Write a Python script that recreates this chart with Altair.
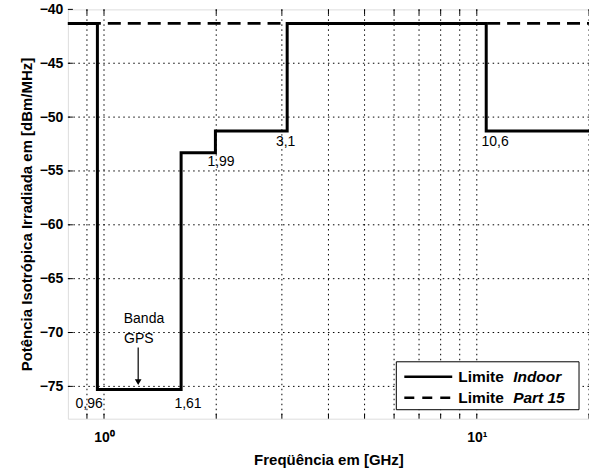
import altair as alt
import pandas as pd

# ---- data ----
freq_indoor = [0.8, 0.96, 1.61, 1.99, 3.1, 10.6, 20.0]
eirp_indoor = [-41.3, -75.3, -53.3, -51.3, -41.3, -51.3, -51.3]
freq_part15 = [0.8, 20.0]
eirp_part15 = [-41.3, -41.3]

ann_text = ["0,96", "1,61", "1,99", "3,1", "10,6"]
ann_x = [0.912, 1.68, 2.06, 3.07, 11.2]
ann_y = [-76.6, -76.6, -54.2, -52.3, -52.3]

gps_text = ["Banda", "GPS"]
gps_x = [1.28, 1.24]
gps_y = [-68.7, -70.6]
arrow_x = [1.235]
arrow_y0 = [-71.4]
arrow_y1 = [-74.6]

x_grid = [0.9, 1, 2, 3, 4, 5, 6, 7, 8, 9, 10, 20]
x_major = [1, 10]
y_ticks = [-75, -70, -65, -60, -55, -50, -45, -40]

W, H = 522, 410
FONT = "Liberation Sans"

xs = alt.Scale(type="log", domain=[0.8, 20], nice=False)
ys = alt.Scale(domain=[-78, -40], nice=False)

df_in = pd.DataFrame({"f": freq_indoor, "p": eirp_indoor})
df_p15 = pd.DataFrame({"f": freq_part15, "p": eirp_part15})
df_ann = pd.DataFrame({"f": ann_x, "p": ann_y, "t": ann_text})
df_gps = pd.DataFrame({"f": gps_x, "p": gps_y, "t": gps_text})
df_arr = pd.DataFrame({"f": arrow_x, "p0": arrow_y0, "p1": arrow_y1})
df_xg = pd.DataFrame({"f": x_grid, "major": [v in x_major for v in x_grid]})
df_yg = pd.DataFrame({"p": y_ticks})

base = alt.Chart(df_in)

xaxis = alt.Axis(values=x_major, labelExpr="datum.value == 1 ? '10⁰' : '10¹'",
                 grid=False, ticks=False, domain=False, labelFont=FONT,
                 labelFontSize=14, labelFontWeight="bold", labelPadding=12,
                 title="Freqüência em [GHz]", titleFont=FONT, titleFontSize=15,
                 titleFontWeight="bold", titlePadding=8, labelColor="black",
                 titleColor="black")
yaxis = alt.Axis(values=y_ticks, grid=False, ticks=False, domain=False,
                 labelFont=FONT, labelFontSize=14, labelFontWeight="bold",
                 labelPadding=5, labelColor="black",
                 title="Potência Isotrópica Irradiada em [dBm/MHz]",
                 titleFont=FONT, titleFontSize=15, titleFontWeight="bold",
                 titleColor="black", titlePadding=5)

# grid lines
vgrid = alt.Chart(df_xg).mark_rule(color="black", strokeWidth=1, strokeDash=[1.5, 3.5]).encode(
    x=alt.X("f:Q", scale=xs, axis=xaxis))
hgrid = alt.Chart(df_yg).transform_filter("datum.p < -40").mark_rule(
    color="black", strokeWidth=1, strokeDash=[1.5, 3.5]).encode(
    y=alt.Y("p:Q", scale=ys, axis=yaxis))

# inward ticks
tick_top = alt.Chart(df_xg).mark_rule(color="black", strokeWidth=1).encode(
    x=alt.X("f:Q", scale=xs), y=alt.value(0),
    y2=alt.value(5))
tick_bot = alt.Chart(df_xg).mark_rule(color="black", strokeWidth=1).encode(
    x=alt.X("f:Q", scale=xs), y=alt.value(H), y2=alt.value(H - 5))
tick_left = alt.Chart(df_yg).mark_rule(color="black", strokeWidth=1).encode(
    y=alt.Y("p:Q", scale=ys), x=alt.value(0), x2=alt.value(5))

line_p15 = alt.Chart(df_p15).mark_line(color="black", strokeWidth=2.6, strokeDash=[13, 7]).encode(
    x=alt.X("f:Q", scale=xs), y=alt.Y("p:Q", scale=ys))
line_in = base.mark_line(color="black", strokeWidth=3, interpolate="step-after").encode(
    x=alt.X("f:Q", scale=xs), y=alt.Y("p:Q", scale=ys))

ann = alt.Chart(df_ann).mark_text(font=FONT, fontSize=14, color="black").encode(
    x=alt.X("f:Q", scale=xs), y=alt.Y("p:Q", scale=ys), text="t:N")
gps = alt.Chart(df_gps).mark_text(font=FONT, fontSize=14, color="black").encode(
    x=alt.X("f:Q", scale=xs), y=alt.Y("p:Q", scale=ys), text="t:N")
arrow = alt.Chart(df_arr).mark_rule(color="black", strokeWidth=1.2).encode(
    x=alt.X("f:Q", scale=xs), y=alt.Y("p0:Q", scale=ys), y2="p1:Q")
head = alt.Chart(df_arr).mark_point(shape="triangle-down", filled=True, color="black",
                                     size=45, opacity=1).encode(
    x=alt.X("f:Q", scale=xs), y=alt.Y("p1:Q", scale=ys))

# legend (drawn manually to allow italic words)
one = df_yg.head(1)
LFS = 15.5
leg_box = alt.Chart(one).mark_rect(fill="white", stroke="black", strokeWidth=1).encode(
    x=alt.value(329), x2=alt.value(512), y=alt.value(353), y2=alt.value(401))
leg_l1 = alt.Chart(one).mark_rule(color="black", strokeWidth=2.6).encode(
    x=alt.value(337), x2=alt.value(385), y=alt.value(368))
leg_l2 = alt.Chart(one).mark_rule(color="black", strokeWidth=2.6, strokeDash=[10, 8]).encode(
    x=alt.value(337), x2=alt.value(387), y=alt.value(389))
leg_t1a = alt.Chart(one).mark_text(font=FONT, fontSize=LFS, fontWeight="bold", align="left",
                                   baseline="middle", color="black", text="Limite").encode(
    x=alt.value(391), y=alt.value(368))
leg_t1b = alt.Chart(one).mark_text(font=FONT, fontSize=LFS, fontWeight="bold", fontStyle="italic",
                                   align="left", baseline="middle", color="black", text="Indoor").encode(
    x=alt.value(446), y=alt.value(368))
leg_t2a = alt.Chart(one).mark_text(font=FONT, fontSize=LFS, fontWeight="bold", align="left",
                                   baseline="middle", color="black", text="Limite").encode(
    x=alt.value(391), y=alt.value(389))
leg_t2b = alt.Chart(one).mark_text(font=FONT, fontSize=LFS, fontWeight="bold", fontStyle="italic",
                                   align="left", baseline="middle", color="black", text="Part 15").encode(
    x=alt.value(446), y=alt.value(389))

chart = alt.layer(
    vgrid, hgrid, tick_top, tick_bot, tick_left,
    line_p15, line_in, ann, gps, arrow, head,
    leg_box, leg_l1, leg_l2, leg_t1a, leg_t1b, leg_t2a, leg_t2b,
).properties(
    width=W, height=H,
    autosize=alt.AutoSizeParams(type="none"),
    padding={"left": 68, "top": 9, "right": 0, "bottom": 55},
).configure_view(stroke="black", strokeWidth=1.5).configure(background="white")

chart.save("out.html", embed_options={"renderer": "svg", "actions": False})
